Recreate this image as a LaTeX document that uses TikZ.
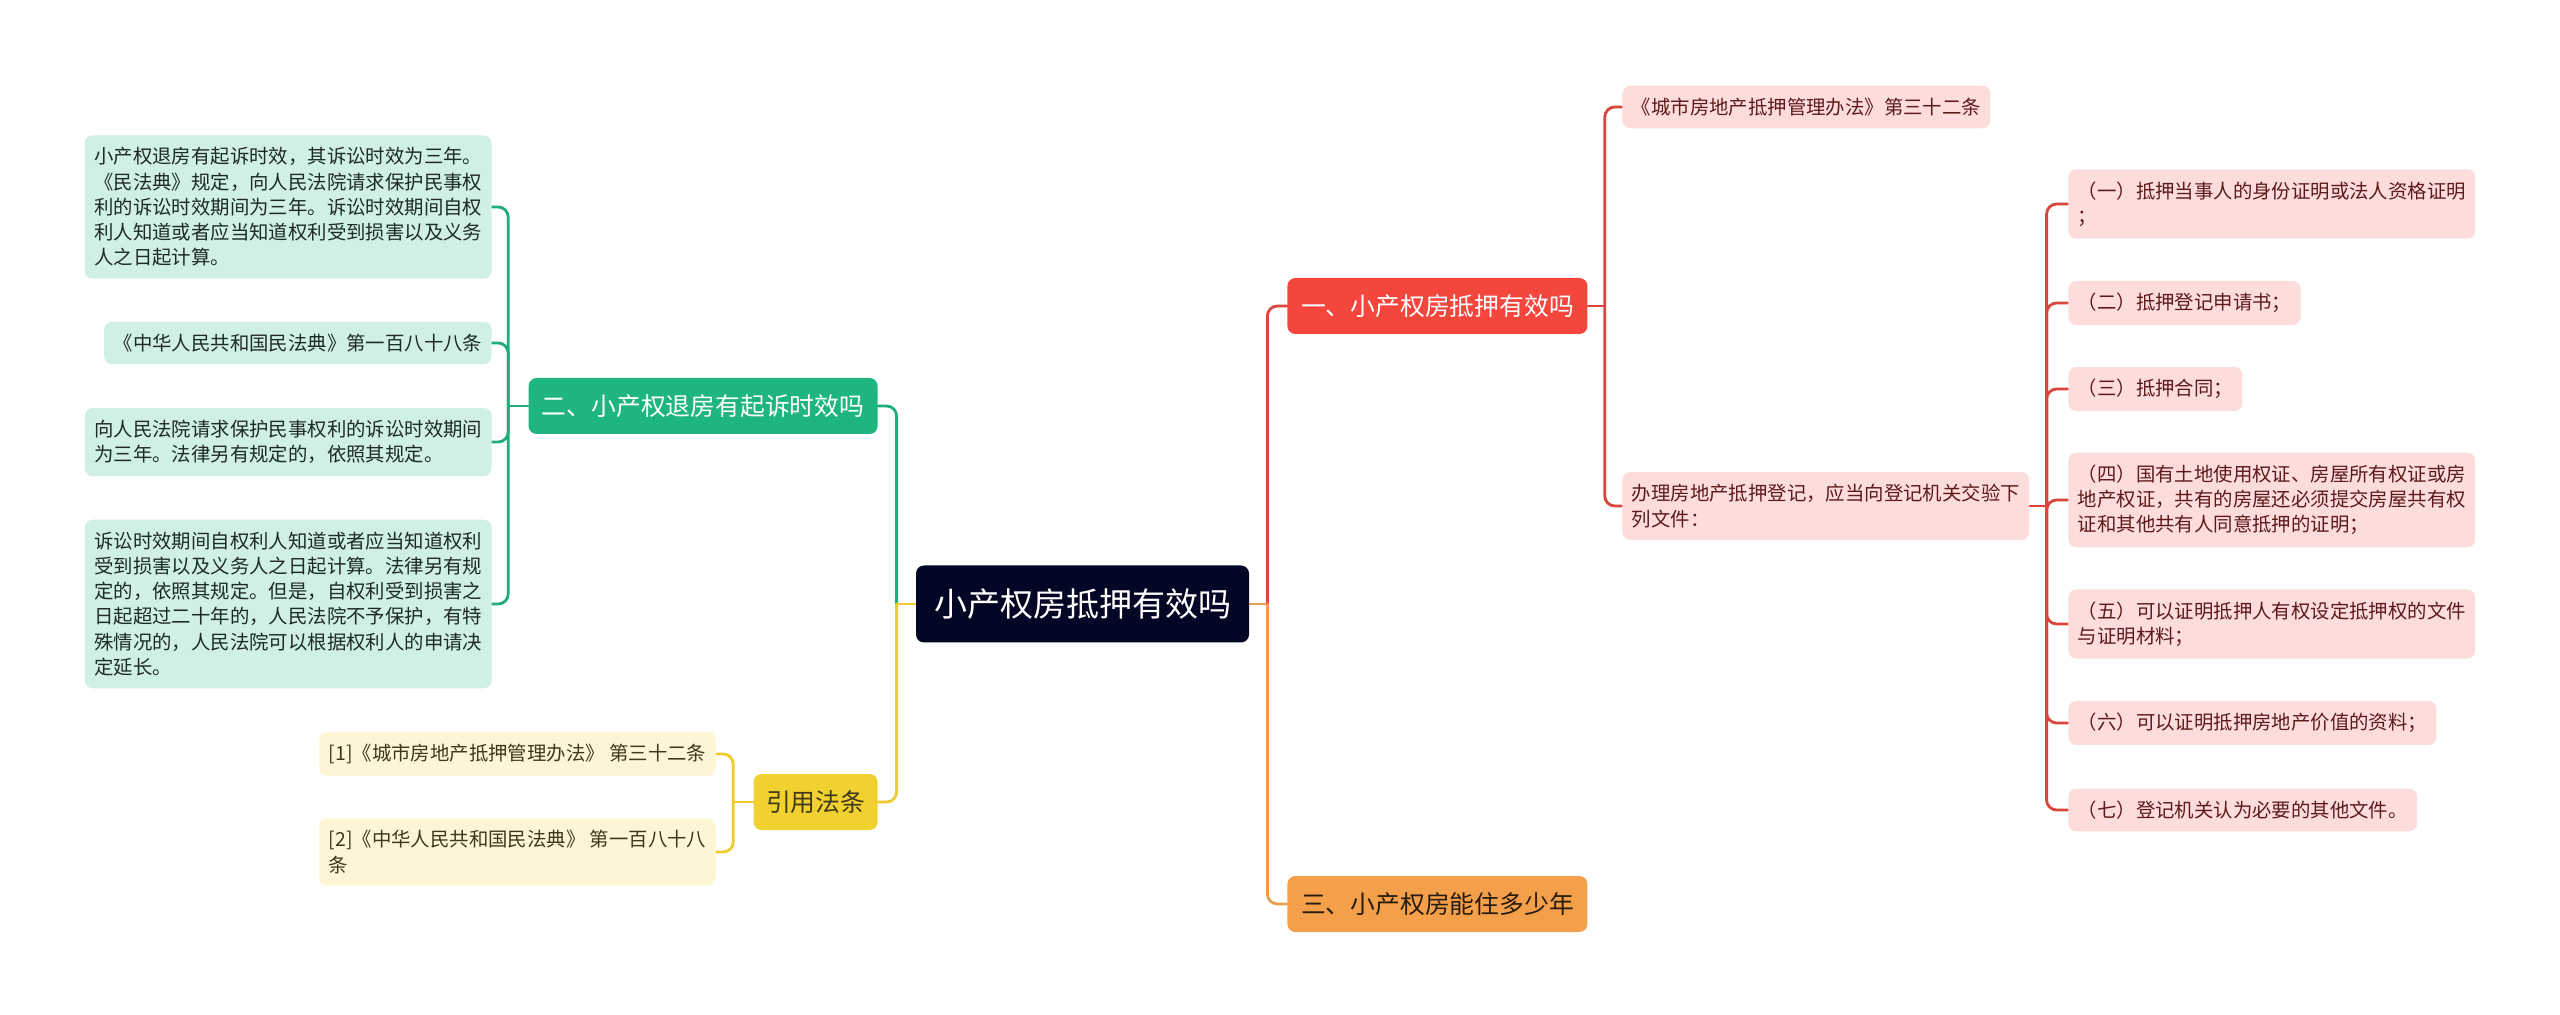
\documentclass[tikz,border=0pt]{standalone}
\usepackage{fontspec}
\newfontfamily\cjk{Noto Sans CJK SC}
\usepackage{xcolor}
\usepackage{tikz}
\usetikzlibrary{positioning, calc, backgrounds}
\definecolor{rootnavy}{RGB}{3, 6, 36}
\definecolor{topicred}{RGB}{245, 70, 62}
\definecolor{topicgreen}{RGB}{30, 182, 124}
\definecolor{topicorange}{RGB}{244, 160, 75}
\definecolor{topicyellow}{RGB}{241, 209, 47}
\definecolor{leafred}{RGB}{253, 220, 220}
\definecolor{leafgreen}{RGB}{207, 240, 227}
\definecolor{leafyellow}{RGB}{253, 245, 211}
\definecolor{textred}{RGB}{94, 26, 26}
\definecolor{textgreen}{RGB}{30, 43, 37}
\definecolor{textyellow}{RGB}{63, 56, 28}
\definecolor{textorange}{RGB}{40, 28, 15}
\definecolor{linered}{RGB}{216, 70, 60}
\definecolor{lineorange}{RGB}{233, 157, 80}
\definecolor{linegreen}{RGB}{31, 173, 120}
\definecolor{lineyellow}{RGB}{240, 203, 44}

\tikzset{
    rootbox/.style={fill=rootnavy, text=white, rounded corners=4pt, inner sep=0pt,
        minimum width=166.5pt, minimum height=38.5pt, font=\cjk\fontsize{16.5}{20}\selectfont},
    topic/.style={rounded corners=4pt, inner sep=0pt, minimum height=28pt,
        font=\cjk\fontsize{12.4}{15}\selectfont},
    leaf/.style={rounded corners=4pt, inner xsep=4.7pt, inner ysep=6.1pt, align=left,
        font=\cjk\fontsize{9.7}{12.6}\selectfont},
    leafr/.style={leaf, fill=leafred, text=textred, anchor=west},
    leafg/.style={leaf, fill=leafgreen, text=textgreen, anchor=east},
    leafy/.style={leaf, fill=leafyellow, text=textyellow, anchor=east},
    link/.style={line width=1.4pt, rounded corners=5pt, line cap=round}
}

\begin{document}
\begin{tikzpicture}[x=0.5pt, y=-0.5pt]
    \useasboundingbox (0,0) rectangle (2560,1015);

    % centre
    \node[rootbox] (root) at (1082.5,604) {小产权房抵押有效吗};

    % main topics
    \node[topic, fill=topicred, text=white, minimum width=150pt, anchor=west] (one) at (1287,306) {一、小产权房抵押有效吗};
    \node[topic, fill=topicorange, text=textorange, minimum width=150pt, anchor=west] (three) at (1287,904) {三、小产权房能住多少年};
    \node[topic, fill=topicgreen, text=white, minimum width=174.5pt, anchor=east] (two) at (878,406) {二、小产权退房有起诉时效吗};
    \node[topic, fill=topicyellow, text=textyellow, minimum width=62pt, anchor=east] (cite) at (878,802) {引用法条};

    % right side
    \node[leafr] (law32) at (1622,107) {《城市房地产抵押管理办法》第三十二条};
    \node[leafr] (reg) at (1622,506) {办理房地产抵押登记，应当向登记机关交验下\\列文件：};
    \node[leafr] (doc1) at (2068,204) {（一）抵押当事人的身份证明或法人资格证明\\；};
    \node[leafr] (doc2) at (2068,303) {（二）抵押登记申请书；};
    \node[leafr] (doc3) at (2068,389) {（三）抵押合同；};
    \node[leafr] (doc4) at (2068,500) {（四）国有土地使用权证、房屋所有权证或房\\地产权证，共有的房屋还必须提交房屋共有权\\证和其他共有人同意抵押的证明；};
    \node[leafr] (doc5) at (2068,624) {（五）可以证明抵押人有权设定抵押权的文件\\与证明材料；};
    \node[leafr] (doc6) at (2068,723) {（六）可以证明抵押房地产价值的资料；};
    \node[leafr] (doc7) at (2068,810) {（七）登记机关认为必要的其他文件。};

    % left side
    \node[leafg] (term1) at (492,207) {小产权退房有起诉时效，其诉讼时效为三年。\\《民法典》规定，向人民法院请求保护民事权\\利的诉讼时效期间为三年。诉讼时效期间自权\\利人知道或者应当知道权利受到损害以及义务\\人之日起计算。};
    \node[leafg] (term2) at (492,343) {《中华人民共和国民法典》第一百八十八条};
    \node[leafg] (term3) at (492,442) {向人民法院请求保护民事权利的诉讼时效期间\\为三年。法律另有规定的，依照其规定。};
    \node[leafg] (term4) at (492,604) {诉讼时效期间自权利人知道或者应当知道权利\\受到损害以及义务人之日起计算。法律另有规\\定的，依照其规定。但是，自权利受到损害之\\日起超过二十年的，人民法院不予保护，有特\\殊情况的，人民法院可以根据权利人的申请决\\定延长。};
    \node[leafy] (ref1) at (716,754) {[1]《城市房地产抵押管理办法》 第三十二条};
    \node[leafy] (ref2) at (716,852) {[2]《中华人民共和国民法典》 第一百八十八\\条};

    % junctions
    \coordinate (jr) at ($(root.east)+(18,0)$);
    \coordinate (jl) at ($(root.west)+(-19,0)$);
    \coordinate (jone) at ($(one.east)+(17,0)$);
    \coordinate (jreg) at ($(reg.east)+(17,0)$);
    \coordinate (jtwo) at ($(two.west)+(-20,0)$);
    \coordinate (jcite) at ($(cite.west)+(-20,0)$);

    \begin{scope}[on background layer]
        \fill[white] (0,0) rectangle (2560,1015);
        \draw[link, lineorange] (root.east) -- (jr);
        \draw[link, linered] (jr) |- (one.west);
        \draw[link, lineorange] (jr) |- (three.west);
        \draw[link, linered] (one.east) -- (jone);
        \draw[link, linered] (jone) |- (law32.west);
        \draw[link, linered] (jone) |- (reg.west);
        \draw[link, linered] (reg.east) -- (jreg);
        \draw[link, linered] (jreg) |- (doc1.west);
        \draw[link, linered] (jreg) |- (doc2.west);
        \draw[link, linered] (jreg) |- (doc3.west);
        \draw[link, linered] (jreg) |- (doc4.west);
        \draw[link, linered] (jreg) |- (doc5.west);
        \draw[link, linered] (jreg) |- (doc6.west);
        \draw[link, linered] (jreg) |- (doc7.west);

        \draw[link, linegreen] (jl) |- (two.east);
        \draw[link, lineyellow] (root.west) -- (jl);
        \draw[link, lineyellow] (jl) |- (cite.east);
        \draw[link, linegreen] (two.west) -- (jtwo);
        \draw[link, linegreen] (jtwo) |- (term1.east);
        \draw[link, linegreen] (jtwo) |- (term2.east);
        \draw[link, linegreen] (jtwo) |- (term3.east);
        \draw[link, linegreen] (jtwo) |- (term4.east);
        \draw[link, lineyellow] (cite.west) -- (jcite);
        \draw[link, lineyellow] (jcite) |- (ref1.east);
        \draw[link, lineyellow] (jcite) |- (ref2.east);
    \end{scope}
\end{tikzpicture}
\end{document}
